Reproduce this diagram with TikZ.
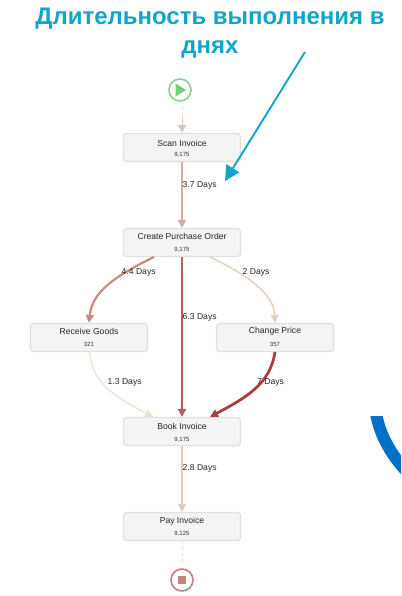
\documentclass[tikz,border=0pt]{standalone}
\usepackage{fontspec}
\setmainfont{Liberation Sans}
\usetikzlibrary{arrows.meta,calc}
\definecolor{titlecol}{HTML}{12A5CC}
\definecolor{bluearc}{HTML}{0070C8}
\definecolor{nodefill}{HTML}{F4F4F4}
\definecolor{nodeline}{HTML}{E0E0E0}
\definecolor{c37}{HTML}{D2AD9F}
\definecolor{c44}{HTML}{C58D82}
\definecolor{c63}{HTML}{B45F5F}
\definecolor{c2}{HTML}{E3D0B8}
\definecolor{c13}{HTML}{EAE2CF}
\definecolor{c7}{HTML}{A83F3F}
\definecolor{c28}{HTML}{E0CBBA}
\definecolor{cstart}{HTML}{E8E0CC}
\tikzset{
  x=1pt,y=-1pt,
  task/.style={draw=nodeline,line width=1.2pt,fill=nodefill,rounded corners=3pt,minimum width=117pt,minimum height=28pt,inner sep=0pt},
  tname/.style={font=\fontsize{8.6}{10}\selectfont,text=black!85,inner sep=0pt},
  tcount/.style={font=\fontsize{6}{7}\selectfont,text=black!80,inner sep=0pt},
  elabel/.style={font=\fontsize{8.6}{10}\selectfont,text=black!85,inner sep=0pt,anchor=west},
  ttl/.style={font=\fontsize{24}{28}\selectfont\bfseries,text=titlecol,inner sep=0pt},
  flow/.style={-{Triangle[length=8pt,width=8pt]},shorten >=0pt},
}
\begin{document}
\begin{tikzpicture}
\useasboundingbox (0,0) rectangle (401,596);
\node[ttl] (t1) at (210,19) {Длительность выполнения в};
\node[ttl] (t2) at (210,50) {днях};

\node[task] (scan) at (182,147.5) {};
\node[tname] (scanN) at (182,143) {Scan Invoice};
\node[tcount] (scanC) at (182,155) {9,175};
\node[task] (create) at (182,242.5) {};
\node[tname] (createN) at (182,236.5) {Create Purchase Order};
\node[tcount] (createC) at (182,250) {9,175};
\node[task] (receive) at (89,337.5) {};
\node[tname] (receiveN) at (89,331.5) {Receive Goods};
\node[tcount] (receiveC) at (89,344.5) {321};
\node[task] (change) at (275,337.5) {};
\node[tname] (changeN) at (275,331.5) {Change Price};
\node[tcount] (changeC) at (275,344.5) {357};
\node[task] (book) at (182,431.5) {};
\node[tname] (bookN) at (182,426) {Book Invoice};
\node[tcount] (bookC) at (182,439.5) {9,175};
\node[task] (pay) at (182,526.5) {};
\node[tname] (payN) at (182,521.5) {Pay Invoice};
\node[tcount] (payC) at (182,534) {9,125};

\node[circle,draw=green!60!black!45,line width=1.6pt,fill=white,minimum size=22pt,inner sep=0pt] (start) at (180,90) {};
\fill[green!65!black!55] (175.5,83.5) -- (186,90) -- (175.5,96.5) -- cycle;
\node[circle,draw=red!50!black!50,line width=1.6pt,fill=white,minimum size=22pt,inner sep=0pt] (stop) at (182,580) {};
\node[fill=red!60!black!50,minimum size=8.5pt,inner sep=0pt] (stopsq) at (182,580) {};

\coordinate (s0) at (182,106);
\coordinate (e0) at (182,565);
\coordinate (sc) at (182,162);
\draw[cstart,line width=1pt,dashed] (s0) -- (182,124);
\draw[flow,c37!70,line width=1pt] (182,116) -- (scan.north);
\draw[flow,c37,line width=2pt] (scan.south) -- (create.north);
\draw[flow,c63,line width=2.6pt] (create.south) -- (book.north);
\draw[flow,c44,line width=2.2pt] (154,257) .. controls (115,276) and (92,292) .. (receive.north);
\draw[flow,c2,line width=1.4pt] (210,257) .. controls (250,276) and (274,295) .. (change.north);
\draw[flow,c13,line width=1.2pt] (89.5,352) .. controls (92,385) and (118,398) .. (153,417);
\draw[flow,c7,line width=2.8pt] (275,352) .. controls (270,385) and (245,398) .. (210,417);
\draw[flow,c28,line width=1.6pt] (book.south) -- (pay.north);
\draw[cstart,line width=1pt,dashed] (pay.south) -- (e0);

\node[elabel] (l1) at (182.5,185) {3.7 Days};
\node[elabel] (l2) at (121.5,272) {4.4 Days};
\node[elabel] (l3) at (182.5,317) {6.3 Days};
\node[elabel] (l4) at (242.5,272) {2 Days};
\node[elabel] (l5) at (107.5,382.5) {1.3 Days};
\node[elabel] (l6) at (257,382.5) {7 Days};
\node[elabel] (l7) at (182.5,468.5) {2.8 Days};

\coordinate (a0) at (305,52);
\coordinate (a1) at (225,181);
\draw[-{Triangle[length=15pt,width=15pt]},titlecol,line width=1.9pt] (a0) -- (a1);

\begin{scope}
\clip (360,416) rectangle (401,596);
\draw[bluearc,line width=12pt] (375.5,410) .. controls (379,435) and (392,458) .. (415,480);
\end{scope}
\end{tikzpicture}
\end{document}
